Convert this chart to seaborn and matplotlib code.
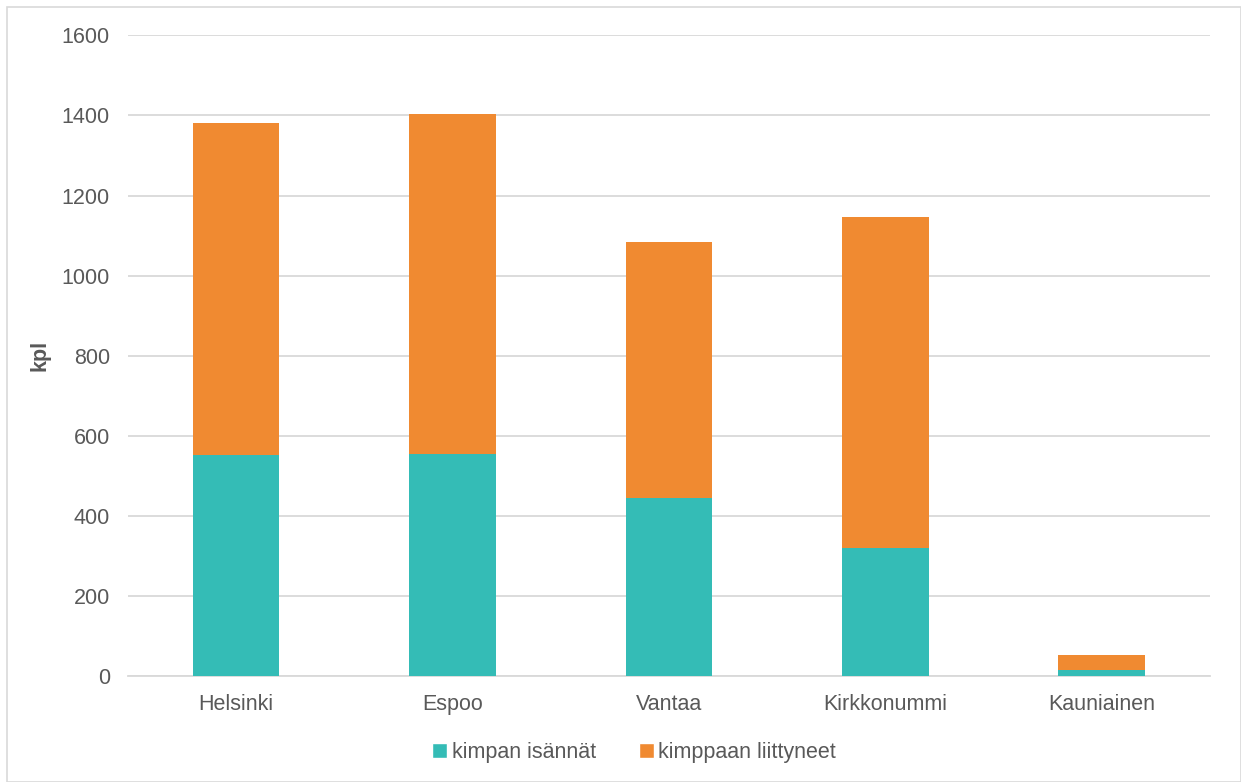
import pandas as pd
import matplotlib.pyplot as plt
import seaborn as sns
from matplotlib.patches import Rectangle, Patch

# values
kunnat = ["Helsinki", "Espoo", "Vantaa", "Kirkkonummi", "Kauniainen"]
isannat = [553, 554, 445, 321, 15]
liittyneet = [828, 850, 638, 826, 38]

teal = "#34bcb6"
orange = "#f08a31"
grey_text = "#595959"

df = pd.DataFrame({"kunta": kunnat, "isannat": isannat, "liittyneet": liittyneet})
df["yhteensa"] = df["isannat"] + df["liittyneet"]

sns.set_style("white")
plt.rcParams["font.family"] = ["Liberation Sans", "DejaVu Sans"]

fig = plt.figure(figsize=(12.41, 7.82), dpi=100)
ax = fig.add_axes([0.103, 0.135, 0.872, 0.82])

# stacked bars: total (orange) first, then the lower part (teal) on top of it
sns.barplot(data=df, x="kunta", y="yhteensa", color=orange, width=0.4,
            saturation=1, linewidth=0, ax=ax, zorder=3)
sns.barplot(data=df, x="kunta", y="isannat", color=teal, width=0.4,
            saturation=1, linewidth=0, ax=ax, zorder=4)

ax.set_ylim(0, 1600)
ax.set_yticks(range(0, 1601, 200))
ax.set_xlim(-0.5, 4.5)
ax.yaxis.grid(True, color="#d9d9d9", linewidth=1.3, zorder=0)
ax.set_axisbelow(True)
for s in ["top", "right", "left"]:
    ax.spines[s].set_visible(False)
ax.spines["bottom"].set_color("#d9d9d9")
ax.spines["bottom"].set_linewidth(1.3)
ax.tick_params(axis="both", length=0, labelsize=15.5, labelcolor=grey_text, pad=13)
ax.tick_params(axis="y", pad=13)
ax.set_xlabel("")
ax.set_ylabel("kpl", fontsize=15.5, fontweight="bold", color=grey_text, labelpad=8)

handles = [Patch(facecolor=teal, label="kimpan isännät"),
           Patch(facecolor=orange, label="kimppaan liittyneet")]
fig.legend(handles=handles, loc="center", bbox_to_anchor=(0.511, 0.038), ncol=2,
           frameon=False, fontsize=15.5, labelcolor=grey_text, handlelength=0.7,
           handleheight=0.7, handletextpad=0.2, columnspacing=2.0)

# thin border around the whole chart
fig.patches.append(Rectangle((0.006, 0.0), 0.994, 0.991, transform=fig.transFigure,
                             fill=False, edgecolor="#d9d9d9", linewidth=1.2))

fig.savefig("out.png", dpi=100)
plt.close(fig)
